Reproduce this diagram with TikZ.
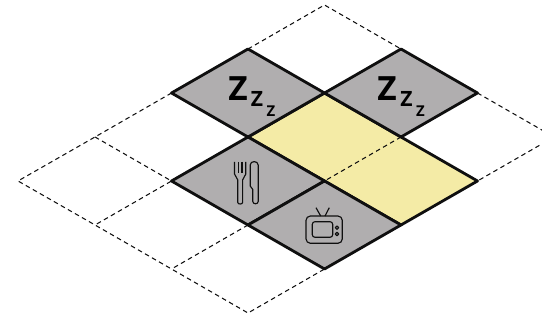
\documentclass[tikz,border=0pt]{standalone}
\usepackage{xcolor}
\usepackage{fontspec}
\setmainfont{Open Sans}
\usepackage{tikz}
\usetikzlibrary{positioning, calc}
\definecolor{mygray}{RGB}{176,174,175}
\definecolor{myyellow}{RGB}{244,235,166}
\definecolor{mydark}{RGB}{15,15,15}
\tikzset{
  room/.style={draw=mydark, line width=1.6pt, line join=round},
  grayroom/.style={room, fill=mygray},
  yellowroom/.style={room, fill=myyellow},
  gridline/.style={draw=mydark, line width=0.6pt, dash pattern=on 2.6pt off 2pt},
  icon/.style={draw=mydark, line width=0.65pt, line join=round},
  bigz/.style={inner sep=0pt, font=\bfseries\fontsize{19}{20}\selectfont},
  midz/.style={inner sep=0pt, font=\fontsize{12}{13}\selectfont\bfseries},
  smallz/.style={inner sep=0pt, font=\fontsize{8.5}{9}\selectfont\bfseries}
}
\begin{document}
\begin{tikzpicture}[x=0.02cm, y=-0.02cm]
  \useasboundingbox (0,0) rectangle (542,320);
  \clip (0,0) rectangle (542,320);
  % lattice points
  \coordinate (top) at (324.5,5);
  \coordinate (a1) at (248,49);
  \coordinate (a2) at (401,49);
  \coordinate (b1) at (171.5,93);
  \coordinate (b2) at (324.5,93);
  \coordinate (b3) at (477.5,93);
  \coordinate (c0) at (95,137);
  \coordinate (c1) at (248,137);
  \coordinate (c2) at (401,137);
  \coordinate (c3) at (554,137);
  \coordinate (d0) at (18,181);
  \coordinate (d1) at (171.5,181);
  \coordinate (d2) at (324.5,181);
  \coordinate (d3) at (477.5,181);
  \coordinate (e0) at (95,225);
  \coordinate (e1) at (248,225);
  \coordinate (e2) at (401,225);
  \coordinate (f1) at (171.5,269);
  \coordinate (f2) at (324.5,269);
  \coordinate (bot) at (248,313);
  % filled rooms
  \draw[yellowroom] (c1)--(b2)--(d3)--(e2)--cycle;
  \draw[grayroom] (b1)--(a1)--(b2)--(c1)--cycle;
  \draw[grayroom] (b2)--(a2)--(b3)--(c2)--cycle;
  \draw[grayroom] (d1)--(c1)--(d2)--(e1)--cycle;
  \draw[grayroom] (e1)--(d2)--(e2)--(f2)--cycle;
  % dashed grid
  \draw[gridline] (a1)--(top)--(a2);
  \draw[gridline] (b1)--(c0)--(d0)--(e0)--(f1)--(bot)--(f2);
  \draw[gridline] (c0)--(d1)--(e0);
  \draw[gridline] (e1)--(f1);
  \draw[gridline] (b3)--(c3)--(d3);
  \draw[gridline] (c2)--(d2);
  % sleeping labels
  \node[bigz] (z1) at (238,88.5) {Z};
  \node[midz] (z2) at (257,98.5) {Z};
  \node[smallz] (z3) at (271,111.5) {Z};
  \node[bigz] (z4) at (387,88.5) {Z};
  \node[midz] (z5) at (406.5,98.5) {Z};
  \node[smallz] (z6) at (420.5,111.5) {Z};
  % fork
  \draw[icon] (234.5,162)--(234.5,174) .. controls (234.5,177) and (237.8,177) .. (237.8,180)
    --(237.8,202.5) .. controls (237.8,204.5) and (242.6,204.5) .. (242.6,202.5)--(242.6,180)
    .. controls (242.6,177) and (245.8,177) .. (245.8,174)--(245.8,162);
  \draw[icon] (238.2,162)--(238.2,173);
  \draw[icon] (242,162)--(242,173);
  % knife
  \draw[icon] (250.2,186)--(250.2,165) .. controls (250.2,160.5) and (258.2,160.5) .. (258.2,165)
    --(258.2,201.5) .. controls (258.2,204.5) and (252.8,204.5) .. (252.8,201.5)--(252.8,189.5)--cycle;
  % tv
  \draw[icon, rounded corners=2.5pt] (306,216) rectangle (342.3,243.3);
  \draw[icon, rounded corners=1.5pt] (312.3,221.7) rectangle (332.7,237.3);
  \draw[icon] (320.7,216)--(316,207.7);
  \draw[icon] (325,216)--(329.3,207.7);
  \draw[icon] (337,227.7) circle (1.7);
  \draw[icon] (337,234) circle (1.7);
\end{tikzpicture}
\end{document}
